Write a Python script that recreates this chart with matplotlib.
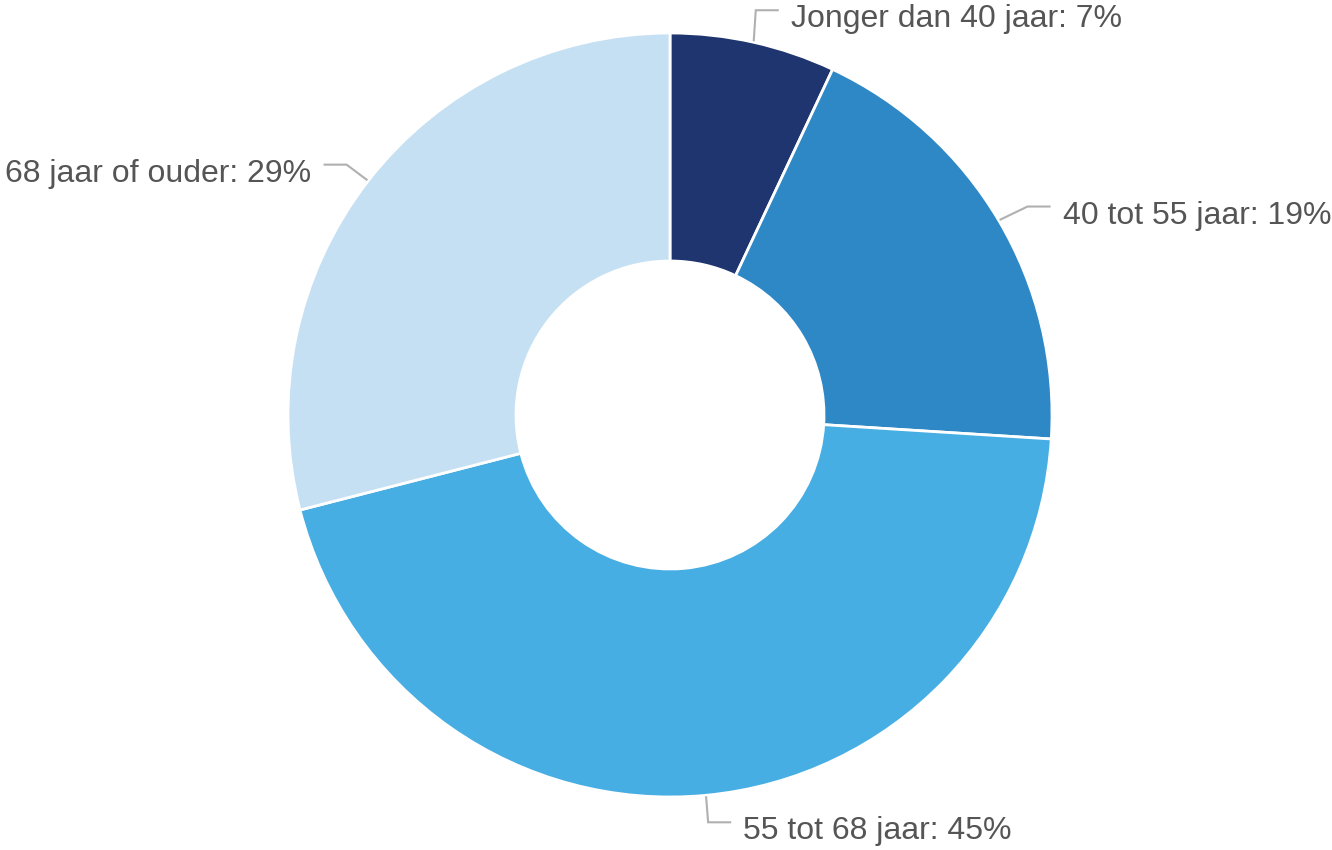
import numpy as np
import matplotlib.pyplot as plt

labels = ["Jonger dan 40 jaar", "40 tot 55 jaar", "55 tot 68 jaar", "68 jaar of ouder"]
shares = [7, 19, 45, 29]
colors = ["#1f356f", "#2e88c6", "#46aee3", "#c6e0f3"]

# connector style per label: first leg (dx, dy), horizontal leg length, side
legs = [(2, 30, 22, 1), (27, 13, 22, 1), (2, -25, 22, 1), (-20, 15, 22, -1)]

W, H = 1332, 850
cx, cy = 670, H - 415
r_out, r_in = 382, 154

fig = plt.figure(figsize=(W / 100, H / 100), dpi=100)
ax = fig.add_axes([0, 0, 1, 1])

ax.pie(
    shares,
    colors=colors,
    startangle=90,
    counterclock=False,
    center=(cx, cy),
    radius=r_out,
    wedgeprops=dict(width=r_out - r_in, edgecolor="white", linewidth=2),
    frame=True,
)
ax.set_xlim(0, W)
ax.set_ylim(0, H)
ax.set_aspect("equal")
ax.axis("off")

cum = np.cumsum([0] + shares[:-1])
for lab, v, c0, (dx, dy, hl, side) in zip(labels, shares, cum, legs):
    ang = np.deg2rad(90 - 360 * (c0 + v / 2) / 100)
    x0 = cx + (r_out + 2) * np.cos(ang)
    y0 = cy + (r_out + 2) * np.sin(ang)
    x1, y1 = x0 + dx, y0 + dy
    x2 = x1 + side * hl
    ax.plot([x0, x1, x2], [y0, y1, y1], color="#b0b0b0", lw=1.5,
            solid_joinstyle="miter", clip_on=False)
    ax.text(x2 + side * 13, y1 - 9, f"{lab}: {v}%",
            ha="left" if side > 0 else "right", va="center",
            fontsize=23, color="#555555", family="Liberation Sans")

fig.savefig("out.png", dpi=100)
